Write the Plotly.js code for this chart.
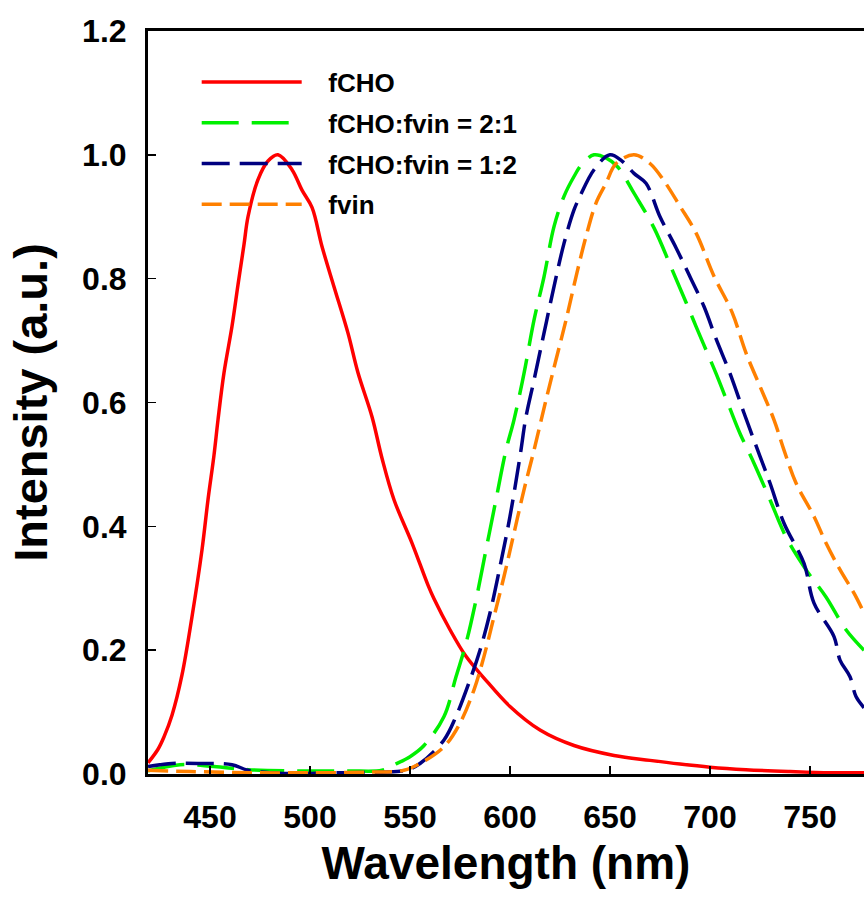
<!DOCTYPE html>
<html>
<head>
<meta charset="utf-8">
<script src="https://cdn.plot.ly/plotly-3.0.1.min.js"></script>
<style>
html,body{margin:0;padding:0;background:#fff;overflow:hidden;}
#chart{width:864px;height:916px;}
</style>
</head>
<body>
<div id="chart"></div>
<script>
// ---- Data ----
const seriesNames = ["fCHO", "fCHO:fvin = 2:1", "fCHO:fvin = 1:2", "fvin"];

const fchoWl = [419, 424, 427, 431, 436, 441, 446, 449, 452, 454, 457, 461, 464, 467, 469, 474, 479, 484, 491, 496, 501, 506, 512, 519, 524, 531, 536, 542, 551, 559, 562, 570, 578, 587, 600, 615, 632, 652, 670, 685, 700, 718, 740, 760, 778];
const fchoI  = [0.018, 0.04, 0.06, 0.095, 0.16, 0.254, 0.362, 0.443, 0.515, 0.572, 0.648, 0.723, 0.79, 0.855, 0.9, 0.96, 0.99, 1.0, 0.976, 0.943, 0.915, 0.852, 0.787, 0.712, 0.648, 0.577, 0.51, 0.443, 0.373, 0.305, 0.283, 0.233, 0.19, 0.155, 0.109, 0.071, 0.046, 0.03, 0.022, 0.016, 0.011, 0.007, 0.004, 0.002, 0.002];

const mix21Wl = [419, 435, 452, 469, 494, 519, 536, 542, 550, 557, 567, 573, 578, 583, 588, 593, 598, 602, 607, 612, 617, 622, 627, 632, 636, 642, 648, 654, 662, 672, 681, 688, 693, 698, 703, 710, 715, 722, 730, 738, 748, 758, 768, 777];
const mix21I  = [0.005, 0.015, 0.012, 0.007, 0.005, 0.005, 0.006, 0.015, 0.028, 0.046, 0.093, 0.157, 0.211, 0.281, 0.362, 0.443, 0.523, 0.572, 0.647, 0.733, 0.803, 0.884, 0.933, 0.965, 0.985, 1.0, 0.995, 0.98, 0.938, 0.882, 0.815, 0.762, 0.723, 0.685, 0.647, 0.59, 0.55, 0.502, 0.443, 0.383, 0.33, 0.286, 0.233, 0.2];

const mix12Wl = [419, 431, 444, 461, 469, 486, 512, 536, 548, 555, 567, 573, 580, 585, 590, 595, 600, 605, 608, 612, 617, 622, 627, 632, 635, 642, 650, 656, 662, 668, 675, 683, 690, 697, 703, 710, 717, 725, 730, 737, 747, 752, 762, 765, 770, 773, 777];
const mix12I  = [0.012, 0.017, 0.017, 0.015, 0.006, 0.001, 0.002, 0.003, 0.006, 0.017, 0.055, 0.093, 0.152, 0.2, 0.26, 0.335, 0.416, 0.513, 0.577, 0.636, 0.712, 0.787, 0.857, 0.911, 0.933, 0.976, 1.0, 0.99, 0.97, 0.954, 0.9, 0.85, 0.803, 0.755, 0.703, 0.647, 0.583, 0.513, 0.47, 0.405, 0.34, 0.276, 0.222, 0.184, 0.157, 0.125, 0.107];

const fvinWl = [419, 440, 470, 500, 530, 547, 555, 567, 575, 582, 587, 592, 597, 602, 607, 612, 618, 623, 628, 633, 638, 643, 648, 653, 662, 670, 677, 685, 693, 702, 711, 718, 725, 732, 737, 743, 752, 758, 765, 772, 777];
const fvinI  = [0.006, 0.004, 0.002, 0.002, 0.003, 0.006, 0.017, 0.044, 0.082, 0.136, 0.19, 0.254, 0.319, 0.389, 0.459, 0.523, 0.604, 0.669, 0.733, 0.803, 0.868, 0.922, 0.954, 0.986, 1.0, 0.986, 0.958, 0.917, 0.874, 0.804, 0.746, 0.68, 0.626, 0.572, 0.523, 0.47, 0.416, 0.373, 0.33, 0.292, 0.26];

const xTicks = [450, 500, 550, 600, 650, 700, 750];
const yTicks = [0.0, 0.2, 0.4, 0.6, 0.8, 1.0, 1.2];

// ---- Styles ----
const FONT = "Liberation Sans, Arial, sans-serif";
const GAP = "\u00A0\u00A0\u00A0";
const mk = (x, y, name, color, dash, grp) => ({
  x: x, y: y, name: GAP + name, type: "scatter", mode: "lines",
  legendgroup: grp,
  line: {color: color, width: 3.5, dash: dash, shape: "spline", smoothing: 1}
});

const traces = [
  mk(fchoWl, fchoI, seriesNames[0], "#ff0000", "solid", "a"),
  mk(mix21Wl, mix21I, seriesNames[1], "#00f000", "37px,13px", "b"),
  mk(mix12Wl, mix12I, seriesNames[2], "#000080", "28px,10px", "c"),
  mk(fvinWl, fvinI, seriesNames[3], "#ff8000", "20px,8px", "d")
];

const layout = {
  width: 864, height: 916,
  margin: {l: 148, r: 0, t: 31, b: 142},
  paper_bgcolor: "#ffffff", plot_bgcolor: "#ffffff",
  font: {family: FONT, color: "#000"},
  showlegend: true,
  legend: {
    x: 0.068, y: 0.963, xanchor: "left", yanchor: "top",
    bgcolor: "rgba(0,0,0,0)", borderwidth: 0,
    font: {family: FONT, size: 26, color: "#000", weight: "bold"},
    itemwidth: 100, tracegroupgap: 4, traceorder: "grouped"
  },
  xaxis: {
    range: [419, 777], tickvals: xTicks, ticktext: xTicks.map(String),
    ticks: "inside", ticklen: 8, tickwidth: 1.5, tickcolor: "#000",
    showline: true, linewidth: 3, linecolor: "#000", mirror: true,
    showgrid: false, zeroline: false,
    tickfont: {family: FONT, size: 32, color: "#000", weight: "bold"},
    ticklabelstandoff: 13,
    title: {text: "Wavelength (nm)", font: {family: FONT, size: 46, color: "#000", weight: "bold"}, standoff: 13}
  },
  yaxis: {
    range: [0, 1.2], tickvals: yTicks, tickformat: ".1f",
    ticks: "inside", ticklen: 8, tickwidth: 1.5, tickcolor: "#000",
    showline: true, linewidth: 3, linecolor: "#000", mirror: false,
    showgrid: false, zeroline: false,
    tickfont: {family: FONT, size: 32, color: "#000", weight: "bold"},
    ticklabelstandoff: 12,
    title: {text: "Intensity (a.u.)", font: {family: FONT, size: 47, color: "#000", weight: "bold"}, standoff: 20}
  }
};

Plotly.newPlot("chart", traces, layout, {displayModeBar: false, staticPlot: true});
</script>
</body>
</html>
